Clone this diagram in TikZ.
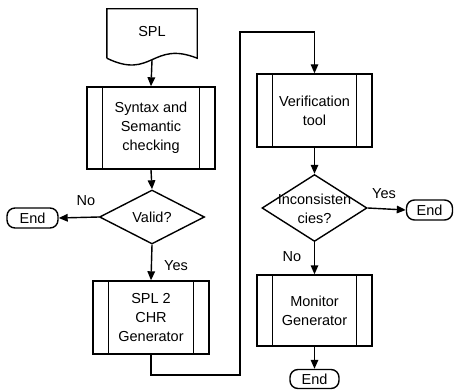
\documentclass[tikz,border=0pt]{standalone}
\usepackage{fontspec}
\setmainfont{Liberation Sans}
\usetikzlibrary{shapes.geometric,arrows.meta,calc}

\tikzset{
  every node/.style={font=\fontsize{14.5pt}{19pt}\selectfont, inner sep=0pt},
  line/.style={line width=1.4pt},
  arr/.style={line, -{Triangle[length=9pt,width=7.5pt]}},
  proc/.style={draw, line width=1.4pt, rectangle, align=center},
  decision/.style={draw, line width=1.4pt, diamond},
  terminal/.style={draw, line width=1.4pt, rectangle, rounded corners=8pt},
  lbl/.style={}
}

% predefined-process box: rectangle with an extra vertical bar near each side
\newcommand{\sidebars}[1]{%
  \draw[line] ([xshift=16pt]#1.north west) -- ([xshift=16pt]#1.south west);
  \draw[line] ([xshift=-16pt]#1.north east) -- ([xshift=-16pt]#1.south east);
}

\begin{document}
\begin{tikzpicture}[x=1pt,y=-1pt]
\useasboundingbox (0,0) rectangle (455,390);

% document shape holding the input
\node (spl) [minimum width=90pt, minimum height=49pt] at (152,33.5) {};
\node (spltxt) at (152,32) {SPL};
\draw[line] (spl.south west) -- (spl.north west) -- (spl.north east) -- (spl.south east)
  .. controls ($(spl.south)+(0,-18)$) and ($(spl.south)+(0,22)$) .. (spl.south west);
\coordinate (splb) at ($(spl.south)+(0,2)$);

% left column
\node (chk) [proc, minimum width=128pt, minimum height=82pt] at (151,128)
  {Syntax and\\Semantic\\checking};
\sidebars{chk}

\node (valid) [decision, minimum width=105pt, minimum height=54pt] at (152,217) {};
\node (validtxt) at (152,217) {Valid?};

\node (endl) [terminal, minimum width=51pt, minimum height=20pt] at (32.5,218) {End};

\node (gen) [proc, minimum width=116pt, minimum height=73pt] at (151,317.5)
  {SPL 2\\CHR\\Generator};
\sidebars{gen}

% right column
\node (ver) [proc, minimum width=115pt, minimum height=73pt] at (314.5,110.5)
  {Verification\\tool};
\sidebars{ver}

\node (inc) [decision, minimum width=105pt, minimum height=67pt] at (314.5,208) {};
\node (inctxt) [align=center] at (314.5,209) {Inconsisten\\cies?};

\node (endr) [terminal, minimum width=46pt, minimum height=20pt] at (429.5,210) {End};

\node (mon) [proc, minimum width=115pt, minimum height=71pt] at (314.5,310.5)
  {Monitor\\Generator};
\sidebars{mon}

\node (endb) [terminal, minimum width=49pt, minimum height=19pt] at (314.5,379) {End};

% connectors
\draw[arr] (splb) -- (chk.north);
\draw[arr] (chk.south) -- (valid.north);
\draw[arr] (valid.west) -- (endl.east);
\draw[arr] (valid.south) -- (gen.north);

\coordinate (c1) at (240,375);
\coordinate (c2) at (240,32);
\draw[arr] (gen.south) |- (c1) -- (c2) -| (ver.north);

\draw[arr] (ver.south) -- (inc.north);
\draw[arr] (inc.east) -- (endr.west);
\draw[arr] (inc.south) -- (mon.north);
\draw[arr] (mon.south) -- (endb.north);

% branch labels
\node (lno1) [lbl] at (86,201) {No};
\node (lyes1) [lbl] at (176,266) {Yes};
\node (lyes2) [lbl] at (384,194) {Yes};
\node (lno2) [lbl] at (292,257) {No};
\end{tikzpicture}
\end{document}
